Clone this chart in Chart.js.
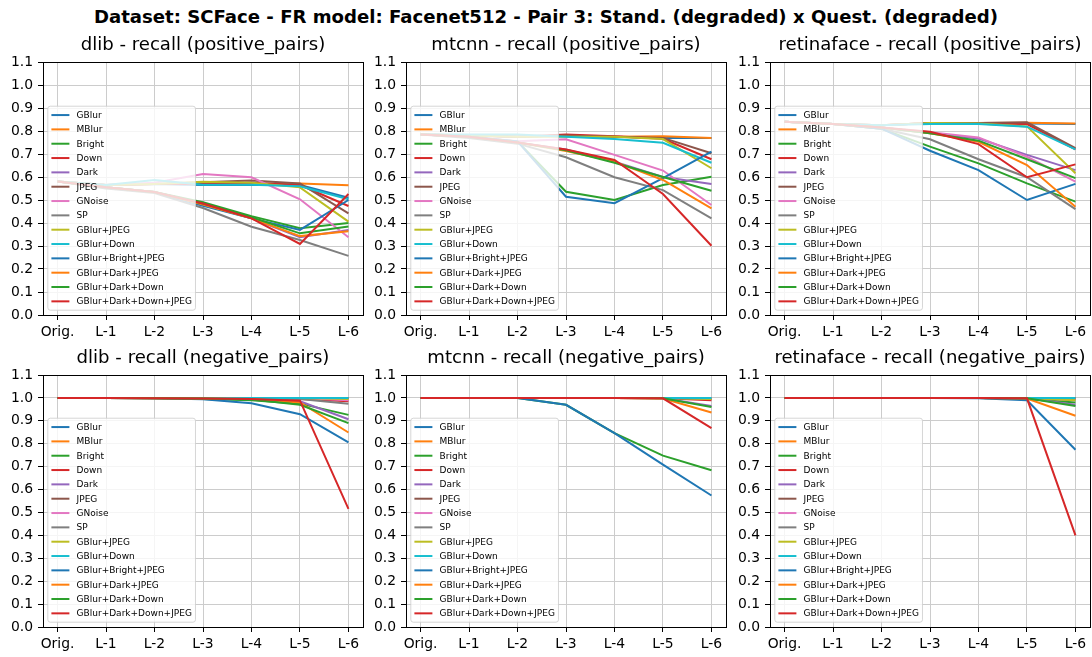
<!DOCTYPE html>
<html><head><meta charset="utf-8">
<script src="https://cdn.jsdelivr.net/npm/chart.js@4"></script>
<style>
html,body{margin:0;padding:0;background:#fff;overflow:hidden;width:1092px;height:657px;position:relative;}
#sup{position:absolute;left:0;width:1092px;top:8px;text-align:center;font:bold 18.1px "DejaVu Sans";line-height:18.1px;white-space:nowrap;color:#000;}
canvas{position:absolute;}
</style></head><body>
<div id="sup">Dataset: SCFace - FR model: Facenet512 - Pair 3: Stand. (degraded) x Quest. (degraded)</div>
<canvas id="c0"></canvas><canvas id="c1"></canvas><canvas id="c2"></canvas>
<canvas id="c3"></canvas><canvas id="c4"></canvas><canvas id="c5"></canvas>
<script>
const categories = ['Orig.','L-1','L-2','L-3','L-4','L-5','L-6'];
const seriesNames = ['GBlur','MBlur','Bright','Down','Dark','JPEG','GNoise','SP','GBlur+JPEG','GBlur+Down','GBlur+Bright+JPEG','GBlur+Dark+JPEG','GBlur+Dark+Down','GBlur+Dark+Down+JPEG'];
const seriesColors = ['#1f77b4','#ff7f0e','#2ca02c','#d62728','#9467bd','#8c564b','#e377c2','#7f7f7f','#bcbd22','#17becf','#1f77b4','#ff7f0e','#2ca02c','#d62728'];
const yTicks = [0,0.1,0.2,0.3,0.4,0.5,0.6,0.7,0.8,0.9,1.0,1.1];
const panelTitles = ['dlib - recall (positive_pairs)','mtcnn - recall (positive_pairs)','retinaface - recall (positive_pairs)','dlib - recall (negative_pairs)','mtcnn - recall (negative_pairs)','retinaface - recall (negative_pairs)'];

const dlibPositive = [
  [0.58,0.565,0.57,0.565,0.565,0.565,0.51],
  [0.58,0.565,0.57,0.57,0.57,0.572,0.564],
  [0.58,0.555,0.535,0.49,0.43,0.377,0.40],
  [0.58,0.565,0.57,0.57,0.575,0.565,0.474],
  [0.58,0.555,0.535,0.48,0.42,0.338,0.37],
  [0.58,0.565,0.57,0.577,0.585,0.572,0.442],
  [0.58,0.565,0.575,0.613,0.599,0.503,0.338],
  [0.58,0.55,0.53,0.465,0.384,0.326,0.257],
  [0.58,0.565,0.57,0.579,0.575,0.555,0.406],
  [0.58,0.565,0.587,0.566,0.566,0.56,0.503],
  [0.58,0.555,0.535,0.475,0.42,0.37,0.50],
  [0.58,0.555,0.535,0.48,0.42,0.343,0.364],
  [0.58,0.555,0.535,0.485,0.425,0.355,0.385],
  [0.58,0.555,0.535,0.485,0.42,0.309,0.526]
];
const mtcnnPositive = [
  [0.785,0.78,0.775,0.78,0.775,0.77,0.77],
  [0.785,0.78,0.775,0.78,0.775,0.777,0.77],
  [0.785,0.775,0.755,0.536,0.50,0.565,0.601],
  [0.785,0.78,0.775,0.785,0.777,0.766,0.677],
  [0.785,0.775,0.75,0.72,0.667,0.60,0.57],
  [0.785,0.78,0.775,0.78,0.775,0.77,0.703],
  [0.785,0.775,0.755,0.764,0.696,0.628,0.478],
  [0.785,0.77,0.745,0.686,0.599,0.543,0.42],
  [0.785,0.78,0.775,0.775,0.775,0.765,0.638],
  [0.785,0.785,0.785,0.775,0.765,0.749,0.662],
  [0.785,0.775,0.755,0.514,0.486,0.595,0.71],
  [0.785,0.775,0.75,0.713,0.667,0.587,0.464],
  [0.785,0.775,0.75,0.716,0.662,0.60,0.54],
  [0.785,0.775,0.75,0.72,0.674,0.526,0.301]
];
const retinafacePositive = [
  [0.84,0.83,0.825,0.835,0.833,0.833,0.83],
  [0.84,0.83,0.825,0.835,0.835,0.836,0.833],
  [0.84,0.83,0.81,0.732,0.659,0.572,0.493],
  [0.84,0.83,0.825,0.835,0.833,0.83,0.72],
  [0.84,0.83,0.815,0.79,0.767,0.696,0.63],
  [0.84,0.83,0.825,0.835,0.835,0.838,0.725],
  [0.84,0.83,0.815,0.795,0.772,0.688,0.58],
  [0.84,0.83,0.81,0.764,0.677,0.599,0.46],
  [0.84,0.83,0.825,0.835,0.833,0.82,0.616],
  [0.84,0.83,0.825,0.83,0.83,0.819,0.72],
  [0.84,0.83,0.81,0.714,0.63,0.50,0.57],
  [0.84,0.83,0.815,0.79,0.753,0.652,0.471],
  [0.84,0.83,0.815,0.79,0.758,0.677,0.595],
  [0.84,0.83,0.815,0.797,0.743,0.599,0.655]
];
const dlibNegative = [
  [1,1,1,1,1,1,1],
  [1,1,1,1,1,0.998,0.995],
  [1,1,0.998,0.995,0.99,0.975,0.926],
  [1,1,1,1,1,0.995,0.985],
  [1,1,0.998,0.997,0.995,0.985,0.907],
  [1,1,1,1,1,1,0.998],
  [1,1,1,1,1,1,0.99],
  [1,1,1,1,0.998,0.995,0.974],
  [1,1,1,1,1,1,0.995],
  [1,1,1,1,1,1,1],
  [1,1,0.998,0.994,0.977,0.929,0.806],
  [1,1,0.998,0.997,0.995,0.98,0.849],
  [1,1,0.998,0.997,0.993,0.97,0.89],
  [1,1,0.998,0.997,0.995,0.988,0.516]
];
const mtcnnNegative = [
  [1,1,1,1,1,1,1],
  [1,1,1,1,1,1,0.995],
  [1,1,1,0.97,0.846,0.748,0.684],
  [1,1,1,1,1,0.999,0.99],
  [1,1,1,1,1,0.998,0.965],
  [1,1,1,1,1,1,0.998],
  [1,1,1,1,1,1,0.998],
  [1,1,1,1,1,1,0.995],
  [1,1,1,1,1,1,0.995],
  [1,1,1,1,1,1,1],
  [1,1,1,0.97,0.846,0.709,0.574],
  [1,1,1,1,1,0.997,0.936],
  [1,1,1,1,1,0.998,0.96],
  [1,1,1,1,1,0.998,0.868]
];
const retinafaceNegative = [
  [1,1,1,1,1,1,1],
  [1,1,1,1,1,1,0.998],
  [1,1,1,1,1,0.995,0.98],
  [1,1,1,1,1,1,0.995],
  [1,1,1,1,1,0.998,0.97],
  [1,1,1,1,1,1,0.998],
  [1,1,1,1,1,1,0.995],
  [1,1,1,1,1,1,0.99],
  [1,1,1,1,1,1,0.99],
  [1,1,1,1,1,1,1],
  [1,1,1,1,0.998,0.99,0.774],
  [1,1,1,1,1,0.997,0.922],
  [1,1,1,1,1,0.998,0.965],
  [1,1,1,1,1,0.998,0.40]
];

const panelValues = [dlibPositive, mtcnnPositive, retinafacePositive, dlibNegative, mtcnnNegative, retinafaceNegative];

const FONT = "'DejaVu Sans'";
Chart.defaults.font.family = FONT;

const panelPlugin = {
  id: 'panelDeco',
  afterDatasetsDraw(chart) {
    const ctx = chart.ctx, a = chart.chartArea;
    const fs = 9;
    ctx.save();
    ctx.font = fs + 'px ' + FONT;
    const ds = chart.data.datasets;
    let maxW = 0;
    ds.forEach(d => { maxW = Math.max(maxW, ctx.measureText(d.label).width); });
    const pad = 3.6, hl = 18, htp = 7.2, rowH = 14.33, vpad = 8.85;
    const w = pad * 2 + hl + htp + maxW;
    const h = rowH * (ds.length - 1) + 2 * vpad;
    const x0 = a.left + 4.8, y1 = a.bottom - 4.8, y0 = y1 - h;
    const r = 2.5;
    ctx.beginPath();
    ctx.moveTo(x0 + r, y0);
    ctx.lineTo(x0 + w - r, y0); ctx.quadraticCurveTo(x0 + w, y0, x0 + w, y0 + r);
    ctx.lineTo(x0 + w, y1 - r); ctx.quadraticCurveTo(x0 + w, y1, x0 + w - r, y1);
    ctx.lineTo(x0 + r, y1); ctx.quadraticCurveTo(x0, y1, x0, y1 - r);
    ctx.lineTo(x0, y0 + r); ctx.quadraticCurveTo(x0, y0, x0 + r, y0);
    ctx.closePath();
    ctx.fillStyle = 'rgba(255,255,255,0.8)';
    ctx.fill();
    ctx.strokeStyle = 'rgba(204,204,204,0.8)';
    ctx.lineWidth = 1;
    ctx.stroke();
    ctx.textBaseline = 'middle';
    ctx.textAlign = 'left';
    ds.forEach((d, i) => {
      const cy = y0 + vpad + i * rowH;
      ctx.beginPath();
      ctx.moveTo(x0 + pad, cy);
      ctx.lineTo(x0 + pad + hl, cy);
      ctx.strokeStyle = d.borderColor;
      ctx.lineWidth = 2;
      ctx.stroke();
      ctx.fillStyle = '#000';
      ctx.fillText(d.label, x0 + pad + hl + htp, cy + 0.5);
    });
    ctx.restore();
  },
  afterDraw(chart, args, opts) {
    const ctx = chart.ctx, a = chart.chartArea;
    ctx.save();
    ctx.strokeStyle = '#000';
    ctx.lineWidth = 1;
    const l = Math.round(a.left) + 0.5, t = Math.round(a.top) + 0.5;
    const rr = Math.round(a.right) + 0.5, b = Math.round(a.bottom) + 0.5;
    ctx.strokeRect(l, t, rr - l, b - t);
    ctx.font = '18.1px ' + FONT;
    ctx.fillStyle = '#000';
    ctx.textAlign = 'center';
    ctx.textBaseline = 'alphabetic';
    ctx.fillText(opts.title, (a.left + a.right) / 2, a.top - 12);
    ctx.restore();
  }
};

const plotLefts = [43, 406, 770];
for (let p = 0; p < 6; p++) {
  const col = p % 3, row = Math.floor(p / 3);
  const cv = document.getElementById('c' + p);
  const W = 366;
  const H = row === 0 ? 323 : 312;
  const top = row === 0 ? 22 : 345;
  const padTop = row === 0 ? 40 : 30;
  cv.width = W; cv.height = H;
  cv.style.left = (plotLefts[col] - 43) + 'px';
  cv.style.top = top + 'px';
  cv.style.width = W + 'px'; cv.style.height = H + 'px';
  const values = panelValues[p];
  const datasets = seriesNames.map((name, i) => ({
    label: name,
    data: values[i].map((v, k) => ({ x: k, y: v })),
    borderColor: seriesColors[i],
    backgroundColor: seriesColors[i],
    borderWidth: 2,
    pointRadius: 0,
    pointHoverRadius: 0,
    fill: false,
    tension: 0,
    order: seriesNames.length - i
  }));
  new Chart(cv, {
    type: 'line',
    data: { datasets },
    plugins: [panelPlugin],
    options: {
      responsive: false,
      animation: false,
      devicePixelRatio: 1,
      events: [],
      layout: { padding: { top: padTop, right: 3, left: 0, bottom: 0 } },
      plugins: {
        legend: { display: false },
        tooltip: { enabled: false },
        title: { display: false },
        panelDeco: { title: panelTitles[p] }
      },
      scales: {
        x: {
          type: 'linear',
          min: -0.3, max: 6.3,
          afterBuildTicks: s => { s.ticks = categories.map((c, i) => ({ value: i })); },
          afterFit: s => { s.height = 30; },
          ticks: {
            autoSkip: false, maxRotation: 0, minRotation: 0,
            color: '#000', padding: 4,
            font: { size: 13.9, family: FONT },
            callback: v => categories[Math.round(v)]
          },
          grid: { color: '#cccccc', lineWidth: 1, drawTicks: true, tickLength: 5, tickColor: '#000', tickWidth: 1 },
          border: { display: false }
        },
        y: {
          type: 'linear',
          min: 0, max: 1.1,
          afterBuildTicks: s => { s.ticks = yTicks.map(v => ({ value: v })); },
          afterFit: s => { s.width = 43; },
          ticks: {
            autoSkip: false,
            color: '#000', padding: 5,
            font: { size: 13.9, family: FONT },
            callback: v => Number(v).toFixed(1)
          },
          grid: { color: '#cccccc', lineWidth: 1, drawTicks: true, tickLength: 5, tickColor: '#000', tickWidth: 1 },
          border: { display: false }
        }
      }
    }
  });
}
</script>
</body></html>
